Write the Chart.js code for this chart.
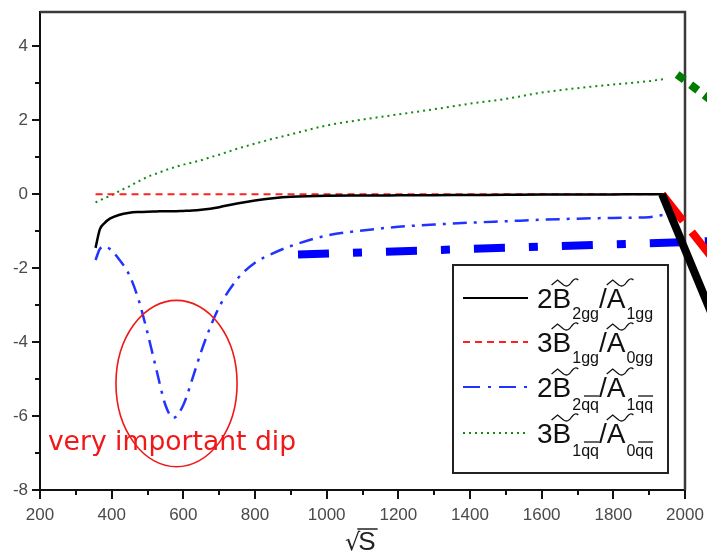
<!DOCTYPE html>
<html>
<head>
<meta charset="utf-8">
<script src="https://cdn.jsdelivr.net/npm/chart.js@4.4.1/dist/chart.umd.min.js"></script>
<style>
  html, body { margin: 0; padding: 0; background: #fff; }
  #ratios { display: block; }
</style>
</head>
<body>
<canvas id="ratios" width="707" height="553"></canvas>
<script>
// sqrt(s) grid shared by the four ratio curves
const rootS = [355, 367, 380, 395, 420, 450, 475, 500, 525, 550, 572, 600, 625, 650, 675, 700,
               750, 800, 850, 900, 1000, 1100, 1200, 1300, 1400, 1500, 1600, 1700, 1800, 1900, 1945];

// 2B2gg / A1gg
const ratioGG2 = [-1.45, -0.95, -0.78, -0.66, -0.56, -0.5, -0.48, -0.47, -0.465, -0.46, -0.46, -0.45, -0.44, -0.42, -0.39, -0.35,
                  -0.25, -0.17, -0.11, -0.07, -0.04, -0.035, -0.03, -0.025, -0.02, -0.015, -0.01, -0.01, -0.005, 0, 0];
// 3B1gg / A0gg
const ratioGG3 = [0, 0, 0, 0, 0, 0, 0, 0, 0, 0, 0, 0, 0, 0, 0, 0,
                  0, 0, 0, 0, 0, 0, 0, 0, 0, 0, 0, 0, 0, 0, 0];
// 2B2qq / A1qq
const ratioQQ2 = [-1.78, -1.48, -1.42, -1.48, -1.75, -2.2, -2.85, -3.75, -4.75, -5.7, -6.05, -5.7, -5.0, -4.25, -3.6, -3.05,
                  -2.3, -1.85, -1.6, -1.4, -1.12, -0.98, -0.88, -0.82, -0.77, -0.73, -0.69, -0.66, -0.64, -0.62, -0.55];
// 3B1qq / A0qq
const ratioQQ3 = [-0.22, -0.17, -0.1, -0.05, 0.08, 0.22, 0.35, 0.47, 0.56, 0.65, 0.72, 0.8, 0.86, 0.92, 1.0, 1.07,
                  1.23, 1.37, 1.5, 1.62, 1.86, 2.02, 2.16, 2.3, 2.45, 2.58, 2.75, 2.87, 2.97, 3.06, 3.12];

// heavy strokes running out past the right edge
const bandS = [920, 2100];
const bandQQ2 = [-1.63, -1.26];
const tailS = [1936, 2100];
const tailGG2 = [0, -3.83];
const tailGG3 = [0, -2.02];
const tailQQ3S = [1978, 2100];
const tailQQ3 = [3.24, 2.34];

// the circled dip and its note
const dipCenter = [581, -5.12];
const dipRadius = [169, 2.25];
const dipNote = 'very important dip';
const dipNoteAt = [222, -6.92];

const xTicks = [200, 400, 600, 800, 1000, 1200, 1400, 1600, 1800, 2000];
const yTicks = [-8, -6, -4, -2, 0, 2, 4];

function pts(xs, ys) {
  return xs.map((x, i) => ({ x: x, y: ys[i] }));
}

const legendRows = [
  { color: '#000', dash: [], width: 2, main: '2B', bsub: '2gg', asub: '1gg', bar: false },
  { color: '#ff2020', dash: [7, 5], width: 2, main: '3B', bsub: '1gg', asub: '0gg', bar: false },
  { color: '#2233ff', dash: [17, 8, 3, 8], width: 2, main: '2B', bsub: '2qq', asub: '1qq', bar: true },
  { color: '#138a13', dash: [2, 4], width: 2, main: '3B', bsub: '1qq', asub: '0qq', bar: true }
];

function wideTilde(ctx, x, y, w) {
  ctx.beginPath();
  ctx.moveTo(x, y + 4);
  ctx.lineTo(x + 6, y - 1);
  ctx.lineTo(x + 12, y + 4);
  ctx.quadraticCurveTo(x + 12 + (w - 12) * 0.3, y + 7, x + 12 + (w - 12) * 0.55, y + 1);
  ctx.quadraticCurveTo(x + 12 + (w - 12) * 0.8, y - 4, x + w, y - 1);
  ctx.stroke();
}

// keep the plot box where it is, whatever the edge labels need
function noEdgePadding(scale) {
  scale.paddingLeft = 0;
  scale.paddingRight = 0;
  scale.paddingTop = 0;
  scale.paddingBottom = 0;
}

const decor = {
  id: 'decor',
  beforeDraw(chart) {
    const ctx = chart.ctx;
    ctx.save();
    ctx.fillStyle = '#fff';
    ctx.fillRect(0, 0, chart.width, chart.height);
    ctx.restore();
  },
  beforeDatasetsDraw(chart) {
    const ctx = chart.ctx, a = chart.chartArea;
    const xs = chart.scales.x, ys = chart.scales.y;
    ctx.save();
    // top and right frame
    ctx.strokeStyle = '#3a3a3a';
    ctx.lineWidth = 2.5;
    ctx.beginPath();
    ctx.moveTo(a.left, a.top);
    ctx.lineTo(a.right, a.top);
    ctx.lineTo(a.right, a.bottom);
    ctx.stroke();
    // major and minor tick marks
    ctx.strokeStyle = '#111';
    ctx.lineWidth = 2;
    ctx.beginPath();
    for (let v = 200; v <= 2000; v += 100) {
      const px = Math.round(xs.getPixelForValue(v));
      ctx.moveTo(px, a.bottom);
      ctx.lineTo(px, a.bottom + (v % 200 === 0 ? 9 : 5));
    }
    for (let v = -8; v <= 4; v++) {
      const py = Math.round(ys.getPixelForValue(v));
      ctx.moveTo(a.left, py);
      ctx.lineTo(a.left - (v % 2 === 0 ? 8 : 5), py);
    }
    ctx.stroke();
    ctx.restore();
  },
  afterDraw(chart) {
    const ctx = chart.ctx;
    const xs = chart.scales.x, ys = chart.scales.y;
    ctx.save();

    // ellipse round the dip
    const cx = xs.getPixelForValue(dipCenter[0]);
    const cy = ys.getPixelForValue(dipCenter[1]);
    const rx = xs.getPixelForValue(dipCenter[0] + dipRadius[0]) - cx;
    const ry = cy - ys.getPixelForValue(dipCenter[1] + dipRadius[1]);
    ctx.strokeStyle = '#f01818';
    ctx.lineWidth = 1.6;
    ctx.beginPath();
    ctx.ellipse(cx, cy, rx, ry, 0, 0, Math.PI * 2);
    ctx.stroke();

    ctx.fillStyle = '#f01818';
    ctx.font = '26.6px "DejaVu Sans"';
    ctx.textBaseline = 'alphabetic';
    ctx.fillText(dipNote, xs.getPixelForValue(dipNoteAt[0]), ys.getPixelForValue(dipNoteAt[1]));

    // legend box
    ctx.fillStyle = '#fff';
    ctx.fillRect(453, 265, 215, 208);
    ctx.strokeStyle = '#222';
    ctx.lineWidth = 2;
    ctx.strokeRect(453, 265, 215, 208);

    const rowY = [298, 342, 387, 433];
    legendRows.forEach((r, i) => {
      const y = rowY[i];
      ctx.strokeStyle = r.color;
      ctx.lineWidth = r.width;
      ctx.setLineDash(r.dash);
      ctx.beginPath();
      ctx.moveTo(463, y);
      ctx.lineTo(528, y);
      ctx.stroke();
      ctx.setLineDash([]);

      const base = y + 10;
      const subBase = y + (r.bar ? 23 : 21);
      let x = 537;
      ctx.fillStyle = '#111';
      ctx.strokeStyle = '#111';
      ctx.lineWidth = 1.3;
      ctx.font = '28px "Liberation Sans"';
      ctx.fillText(r.main[0], x, base);
      x += ctx.measureText(r.main[0]).width;
      const wB = ctx.measureText('B').width;
      ctx.fillText('B', x, base);
      wideTilde(ctx, x - 1, base - 27, wB + 8);
      x += wB + 1;
      ctx.font = '16px "Liberation Sans"';
      ctx.fillText(r.bsub, x, subBase);
      x += ctx.measureText(r.bsub).width;
      if (r.bar) {
        ctx.beginPath();
        ctx.moveTo(x - 15, subBase - 14);
        ctx.lineTo(x, subBase - 14);
        ctx.stroke();
      }
      ctx.font = '28px "Liberation Sans"';
      ctx.fillText('/', x, base);
      x += ctx.measureText('/').width;
      const wA = ctx.measureText('A').width;
      ctx.fillText('A', x, base);
      wideTilde(ctx, x, base - 27, wA + 8);
      x += wA + 1;
      ctx.font = '16px "Liberation Sans"';
      ctx.fillText(r.asub, x, subBase);
      x += ctx.measureText(r.asub).width;
      if (r.bar) {
        ctx.beginPath();
        ctx.moveTo(x - 15, subBase - 14);
        ctx.lineTo(x, subBase - 14);
        ctx.stroke();
      }
    });

    // x axis title: sqrt(s)
    ctx.fillStyle = '#222';
    ctx.strokeStyle = '#222';
    ctx.font = '24px "DejaVu Sans"';
    const tx = 345, tb = 550;
    ctx.fillText('\u221A', tx, tb);
    const wr = ctx.measureText('\u221A').width;
    ctx.font = '26px "Liberation Sans"';
    ctx.fillText('S', tx + wr - 2, tb);
    const ws = ctx.measureText('S').width;
    ctx.lineWidth = 1.5;
    ctx.beginPath();
    ctx.moveTo(tx + wr - 3, 529);
    ctx.lineTo(tx + wr + ws, 529);
    ctx.stroke();

    ctx.restore();
  }
};

const tickFont = { family: '"Liberation Sans"', size: 17 };
const plainLabel = v => String(v);

new Chart(document.getElementById('ratios'), {
  type: 'line',
  data: {
    datasets: [
      { data: pts(tailS, tailGG2), borderColor: '#000', borderWidth: 8, clip: false },
      { data: pts(tailS, tailGG3), borderColor: '#ff0000', borderWidth: 8, borderDash: [34, 14], clip: false },
      { data: pts(bandS, bandQQ2), borderColor: '#0000ff', borderWidth: 8, borderDash: [31, 24, 9, 24], clip: false },
      { data: pts(tailQQ3S, tailQQ3), borderColor: '#007d00', borderWidth: 8, borderDash: [9, 8], clip: false },
      { data: pts(rootS, ratioGG2), borderColor: '#000', borderWidth: 2.5 },
      { data: pts(rootS, ratioGG3), borderColor: '#ff2020', borderWidth: 2, borderDash: [7, 5] },
      { data: pts(rootS, ratioQQ2), borderColor: '#2233ff', borderWidth: 2.5, borderDash: [14, 7, 3, 7] },
      { data: pts(rootS, ratioQQ3), borderColor: '#138a13', borderWidth: 2, borderDash: [2, 4] }
    ].map(d => Object.assign({ pointRadius: 0, fill: false, cubicInterpolationMode: 'monotone' }, d))
  },
  options: {
    responsive: false,
    animation: false,
    events: [],
    layout: { padding: { top: 12, right: 22, left: 0, bottom: 0 } },
    plugins: { legend: { display: false }, tooltip: { enabled: false } },
    scales: {
      x: {
        type: 'linear',
        min: 200,
        max: 2000,
        afterFit(scale) { scale.height = 63; noEdgePadding(scale); },
        afterBuildTicks(scale) { scale.ticks = xTicks.map(v => ({ value: v })); },
        grid: { display: false, drawTicks: false },
        border: { display: true, color: '#111', width: 2 },
        ticks: { font: tickFont, color: '#4a4a4a', padding: 15, maxRotation: 0, autoSkip: false, callback: plainLabel }
      },
      y: {
        type: 'linear',
        min: -8,
        max: 4.93,
        afterFit(scale) { scale.width = 40; noEdgePadding(scale); },
        afterBuildTicks(scale) { scale.ticks = yTicks.map(v => ({ value: v })); },
        grid: { display: false, drawTicks: false },
        border: { display: true, color: '#111', width: 2 },
        ticks: { font: tickFont, color: '#4a4a4a', padding: 12, callback: plainLabel }
      }
    }
  },
  plugins: [decor]
});
</script>
</body>
</html>
